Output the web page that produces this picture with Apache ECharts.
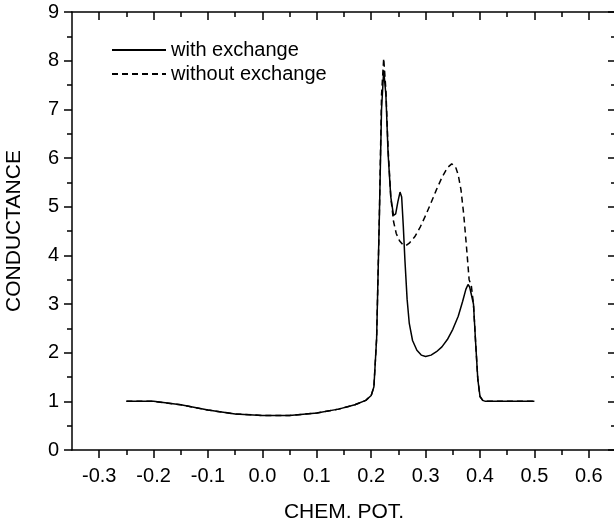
<!DOCTYPE html>
<html lang="en">

<head>
    <meta charset="UTF-8">
    <title>Conductance</title>
    <script src="https://cdn.jsdelivr.net/npm/echarts@6/dist/echarts.min.js"></script>
</head>

<body style="margin:0">
    <div id="main" style="width: 614px;height:530px;"></div>
    <script type="text/javascript">
        // data
        var xWith = [-0.25, -0.2, -0.15, -0.1, -0.05, 0, 0.05, 0.1, 0.14, 0.17, 0.19, 0.2, 0.205, 0.21, 0.215, 0.219, 0.223, 0.227, 0.231, 0.236, 0.241, 0.245, 0.249, 0.253, 0.256, 0.259, 0.262, 0.266, 0.27, 0.276, 0.284, 0.292, 0.3, 0.31, 0.32, 0.33, 0.34, 0.35, 0.36, 0.368, 0.374, 0.378, 0.381, 0.384, 0.388, 0.392, 0.396, 0.4, 0.405, 0.41, 0.45, 0.5]
        var yWith = [1.0, 1.0, 0.93, 0.82, 0.74, 0.71, 0.71, 0.76, 0.84, 0.93, 1.02, 1.12, 1.3, 2.3, 4.8, 7.0, 7.8, 7.3, 6.1, 5.2, 4.82, 4.85, 5.1, 5.3, 5.2, 4.6, 3.9, 3.1, 2.6, 2.25, 2.05, 1.95, 1.92, 1.95, 2.02, 2.12, 2.27, 2.48, 2.75, 3.05, 3.3, 3.4, 3.35, 3.38, 3.0, 2.2, 1.45, 1.1, 1.02, 1.0, 1.0, 1.0]

        var xWithout = [-0.25, -0.2, -0.15, -0.1, -0.05, 0, 0.05, 0.1, 0.14, 0.17, 0.19, 0.2, 0.205, 0.21, 0.215, 0.219, 0.223, 0.227, 0.231, 0.236, 0.241, 0.246, 0.252, 0.258, 0.264, 0.27, 0.28, 0.29, 0.3, 0.31, 0.32, 0.33, 0.34, 0.348, 0.355, 0.36, 0.365, 0.37, 0.375, 0.38, 0.384, 0.388, 0.392, 0.396, 0.4, 0.405, 0.41, 0.45, 0.5]
        var yWithout = [1.0, 1.0, 0.93, 0.82, 0.74, 0.71, 0.71, 0.76, 0.84, 0.93, 1.02, 1.12, 1.3, 2.3, 4.8, 7.3, 8.05, 7.4, 6.2, 5.2, 4.7, 4.45, 4.3, 4.22, 4.2, 4.25, 4.38, 4.58, 4.82, 5.08, 5.35, 5.6, 5.8, 5.88, 5.82, 5.65, 5.35, 4.85, 4.2, 3.5, 3.38, 3.0, 2.2, 1.45, 1.1, 1.02, 1.0, 1.0, 1.0]

        var xMajor = [-0.3, -0.2, -0.1, 0, 0.1, 0.2, 0.3, 0.4, 0.5, 0.6]
        var xMinor = [-0.25, -0.15, -0.05, 0.05, 0.15, 0.25, 0.35, 0.45, 0.55]

        function pairs(xs, ys) {
            return xs.map(function (x, i) { return [x, ys[i]] })
        }

        var font = 'Liberation Sans, Arial, sans-serif'
        var black = '#000'

        function xAx(pos, vals, len, inside, labels, line) {
            return {
                type: 'value', position: pos, min: -0.35, max: 0.65,
                axisLine: { show: line, onZero: false, lineStyle: { color: black, width: 1.5 } },
                axisTick: { show: true, inside: inside, length: len, customValues: vals, lineStyle: { color: black, width: 1.5 } },
                axisLabel: {
                    show: labels, customValues: vals, margin: 16, color: black, fontSize: 20, fontFamily: font,
                    formatter: function (v) { return v.toFixed(1) }
                },
                splitLine: { show: false }
            }
        }

        function yAx(pos, inside, labels) {
            return {
                type: 'value', position: pos, min: 0, max: 9, interval: 1,
                axisLine: { show: true, onZero: false, lineStyle: { color: black, width: 1.5 } },
                axisTick: { show: true, inside: inside, length: 8, lineStyle: { color: black, width: 1.5 } },
                minorTick: { show: true, splitNumber: 2, length: 5, lineStyle: { color: black, width: 1.5 } },
                axisLabel: { show: labels, margin: 13, color: black, fontSize: 20, fontFamily: font },
                splitLine: { show: false },
                minorSplitLine: { show: false }
            }
        }

        var xBottom = xAx('bottom', xMajor, 8, false, true, true)
        xBottom.name = 'CHEM. POT.'
        xBottom.nameLocation = 'middle'
        xBottom.nameGap = 52
        xBottom.nameTextStyle = { color: black, fontSize: 21, fontFamily: font }

        var yLeft = yAx('left', false, true)
        yLeft.name = 'CONDUCTANCE'
        yLeft.nameLocation = 'middle'
        yLeft.nameGap = 47
        yLeft.nameTextStyle = { color: black, fontSize: 21, fontFamily: font }

        var chart = echarts.init(document.getElementById('main'))
        chart.setOption({
            backgroundColor: '#fff',
            animation: false,
            grid: { left: 72, top: 12, right: -2, bottom: 80, containLabel: false, outerBoundsMode: 'none' },
            legend: {
                left: 111, top: 40, orient: 'vertical', padding: 0,
                itemWidth: 54, itemHeight: 14, itemGap: 4,
                itemStyle: { opacity: 0 },
                textStyle: { color: black, fontSize: 20, fontFamily: font },
                data: ['with exchange', 'without exchange']
            },
            xAxis: [
                xBottom,
                xAx('bottom', xMinor, 5, false, false, false),
                xAx('top', xMajor, 8, true, false, true),
                xAx('top', xMinor, 5, true, false, false)
            ],
            yAxis: [
                yLeft,
                yAx('right', true, false)
            ],
            series: [
                {
                    name: 'without exchange', type: 'line', symbol: 'none',
                    xAxisIndex: 0, yAxisIndex: 0,
                    lineStyle: { color: black, width: 1.5, type: [6, 4] },
                    itemStyle: { color: black },
                    data: pairs(xWithout, yWithout)
                },
                {
                    name: 'with exchange', type: 'line', symbol: 'none',
                    xAxisIndex: 0, yAxisIndex: 0,
                    lineStyle: { color: black, width: 1.5 },
                    itemStyle: { color: black },
                    data: pairs(xWith, yWith)
                }
            ]
        })
    </script>
</body>

</html>
